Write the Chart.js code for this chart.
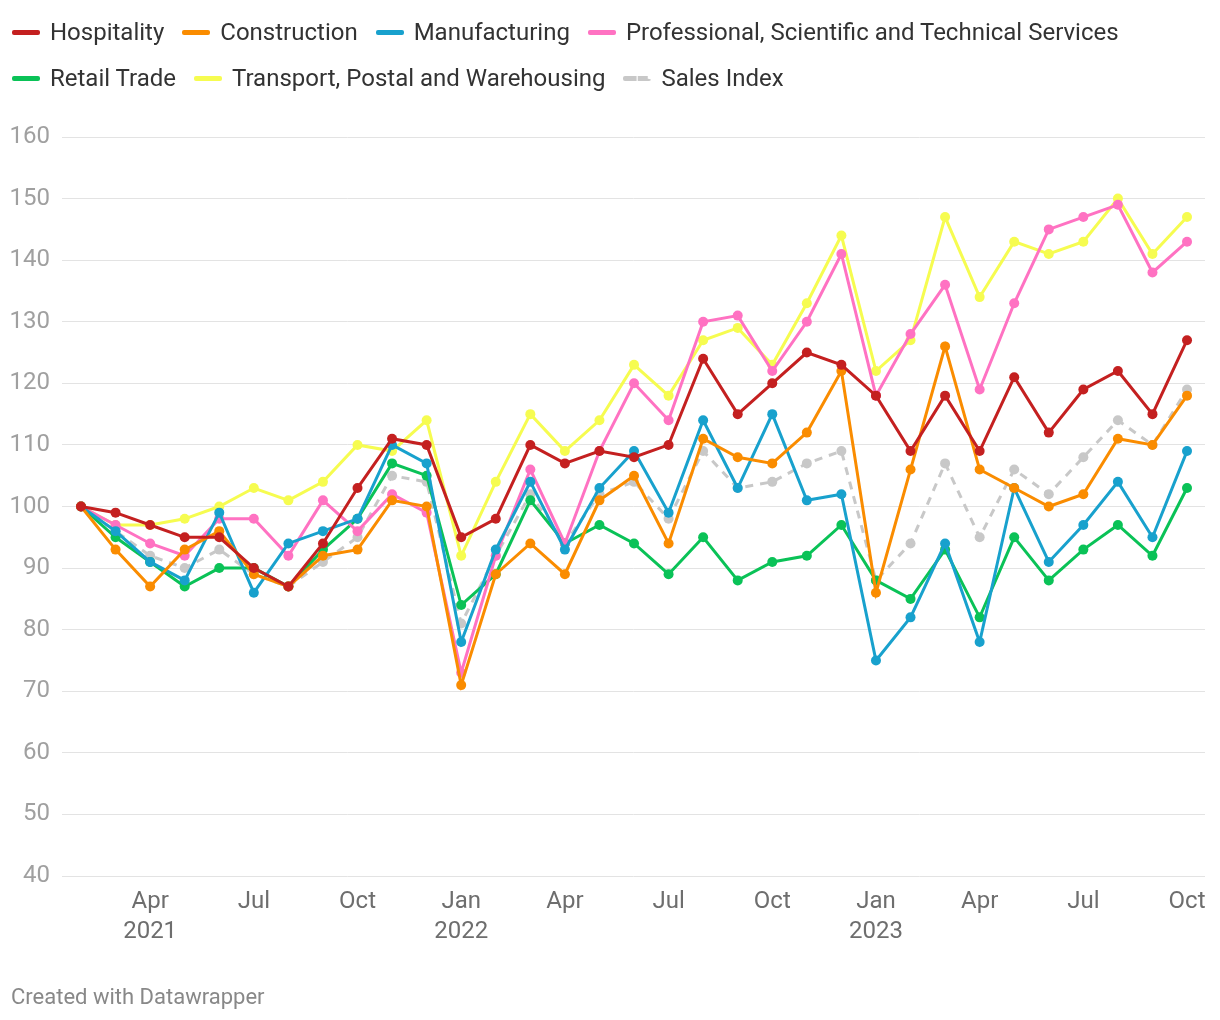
<!DOCTYPE html>
<html>
<head>
<meta charset="utf-8">
<script src="https://cdn.jsdelivr.net/npm/chart.js@4"></script>
<style>
  html, body { margin: 0; padding: 0; background: #fff; }
  body { width: 1220px; height: 1020px; position: relative; overflow: hidden; font-family: Roboto, sans-serif; }
  #wrap { position: absolute; left: 0; top: 0; width: 1220px; height: 1020px; }
  .legend { position: absolute; left: 12px; top: 14px; font-size: 24px; color: #333; }
  .legend .row { display: flex; height: 46px; align-items: flex-start; }
  .legend .item { display: flex; align-items: center; margin-right: 18px; height: 36px; line-height: 36px; }
  .legend .sw { width: 28px; height: 0; border-top: 5px solid; margin-right: 10px; border-radius: 2px; }
  .legend .sw.dash { border-top-style: dashed; border-color: #c8c8c8; }
  .footer { position: absolute; left: 11px; top: 984px; font-size: 22px; line-height: 26px; color: #888; }
</style>
</head>
<body>
<div id="wrap"><canvas id="chart" width="1220" height="1020"></canvas></div>
<div class="legend" id="legend"></div>
<div class="footer">Created with Datawrapper</div>
<script>
'use strict';

// ---------- data ----------
// monthly index, Feb 2021 = 100
const months = [
    '2021-02','2021-03','2021-04','2021-05','2021-06','2021-07','2021-08','2021-09','2021-10','2021-11','2021-12',
    '2022-01','2022-02','2022-03','2022-04','2022-05','2022-06','2022-07','2022-08','2022-09','2022-10','2022-11','2022-12',
    '2023-01','2023-02','2023-03','2023-04','2023-05','2023-06','2023-07','2023-08','2023-09','2023-10',
];

const hospitality   = [100, 99, 97, 95, 95, 90, 87, 94,103,111,110, 95, 98,110,107,109,108,110,124,115,120,125,123,118,109,118,109,121,112,119,122,115,127];
const construction  = [100, 93, 87, 93, 96, 89, 87, 92, 93,101,100, 71, 89, 94, 89,101,105, 94,111,108,107,112,122, 86,106,126,106,103,100,102,111,110,118];
const manufacturing = [100, 96, 91, 88, 99, 86, 94, 96, 98,110,107, 78, 93,104, 93,103,109, 99,114,103,115,101,102, 75, 82, 94, 78,103, 91, 97,104, 95,109];
const professional  = [100, 97, 94, 92, 98, 98, 92,101, 96,102, 99, 73, 92,106, 94,109,120,114,130,131,122,130,141,118,128,136,119,133,145,147,149,138,143];
const retail        = [100, 95, 91, 87, 90, 90, 87, 93, 98,107,105, 84, 89,101, 94, 97, 94, 89, 95, 88, 91, 92, 97, 88, 85, 93, 82, 95, 88, 93, 97, 92,103];
const transport     = [100, 97, 97, 98,100,103,101,104,110,109,114, 92,104,115,109,114,123,118,127,129,123,133,144,122,127,147,134,143,141,143,150,141,147];
const salesIndex    = [100, 96, 92, 90, 93, 89, 87, 91, 95,105,104, 81, 92,102, 94,102,104, 98,109,103,104,107,109, 88, 94,107, 95,106,102,108,114,110,119];

// x-axis ticks (index into months)
const tickIdx    = [2, 5, 8, 11, 14, 17, 20, 23, 26, 29, 32];
const tickMonths = ['Apr','Jul','Oct','Jan','Apr','Jul','Oct','Jan','Apr','Jul','Oct'];
const tickYears  = ['2021','','','2022','','','','2023','','',''];

const series = [
    { label: 'Hospitality', data: hospitality, color: '#c42020' },
    { label: 'Construction', data: construction, color: '#fa8c00' },
    { label: 'Manufacturing', data: manufacturing, color: '#18a1cd' },
    { label: 'Professional, Scientific and Technical Services', data: professional, color: '#ff72c2' },
    { label: 'Retail Trade', data: retail, color: '#0ac257' },
    { label: 'Transport, Postal and Warehousing', data: transport, color: '#f6fc50' },
    { label: 'Sales Index', data: salesIndex, color: '#c8c8c8', dash: true },
];

// ---------- legend (two rows like the original) ----------
const legendRows = [[0, 1, 2, 3], [4, 5, 6]];
const legendEl = document.getElementById('legend');
legendRows.forEach(row => {
    const rowEl = document.createElement('div');
    rowEl.className = 'row';
    row.forEach(i => {
        const s = series[i];
        const item = document.createElement('div');
        item.className = 'item';
        const sw = document.createElement('span');
        sw.className = 'sw' + (s.dash ? ' dash' : '');
        if (!s.dash) sw.style.borderColor = s.color;
        item.appendChild(sw);
        item.appendChild(document.createTextNode(s.label));
        rowEl.appendChild(item);
    });
    legendEl.appendChild(rowEl);
});

// ---------- chart ----------
const datasets = series.map(s => ({
    label: s.label,
    data: s.data.map((v, i) => ({ x: i, y: v })),
    borderColor: s.color,
    backgroundColor: s.color,
    pointBackgroundColor: s.color,
    pointBorderWidth: 0,
    pointRadius: 5,
    borderWidth: 3,
    borderDash: s.dash ? [8, 7] : [],
    tension: 0,
    fill: false,
}));

new Chart(document.getElementById('chart'), {
    type: 'line',
    data: { datasets },
    options: {
        responsive: false,
        animation: false,
        events: [],
        layout: { padding: { top: 137, left: 10, right: 15, bottom: 70 } },
        plugins: { legend: { display: false }, tooltip: { enabled: false } },
        scales: {
            x: {
                type: 'linear',
                min: -0.55,
                max: 32.52,
                grid: { display: false },
                border: { display: false },
                afterBuildTicks: axis => { axis.ticks = tickIdx.map(v => ({ value: v })); },
                ticks: {
                    autoSkip: false,
                    maxRotation: 0,
                    padding: 3,
                    color: '#6e6e6e',
                    font: { family: 'Roboto', size: 24, lineHeight: 1.25 },
                    callback: v => {
                        const k = tickIdx.indexOf(v);
                        if (k < 0) return '';
                        return tickYears[k] ? [tickMonths[k], tickYears[k]] : tickMonths[k];
                    },
                },
            },
            y: {
                min: 40,
                max: 160,
                afterFit: axis => { axis.width = 52; },
                grid: { color: '#e3e3e3', lineWidth: 1, drawTicks: false },
                border: { display: false },
                ticks: {
                    stepSize: 10,
                    padding: 12,
                    color: '#a0a0a0',
                    font: { family: 'Roboto', size: 24 },
                },
            },
        },
    },
});
</script>
</body>
</html>
